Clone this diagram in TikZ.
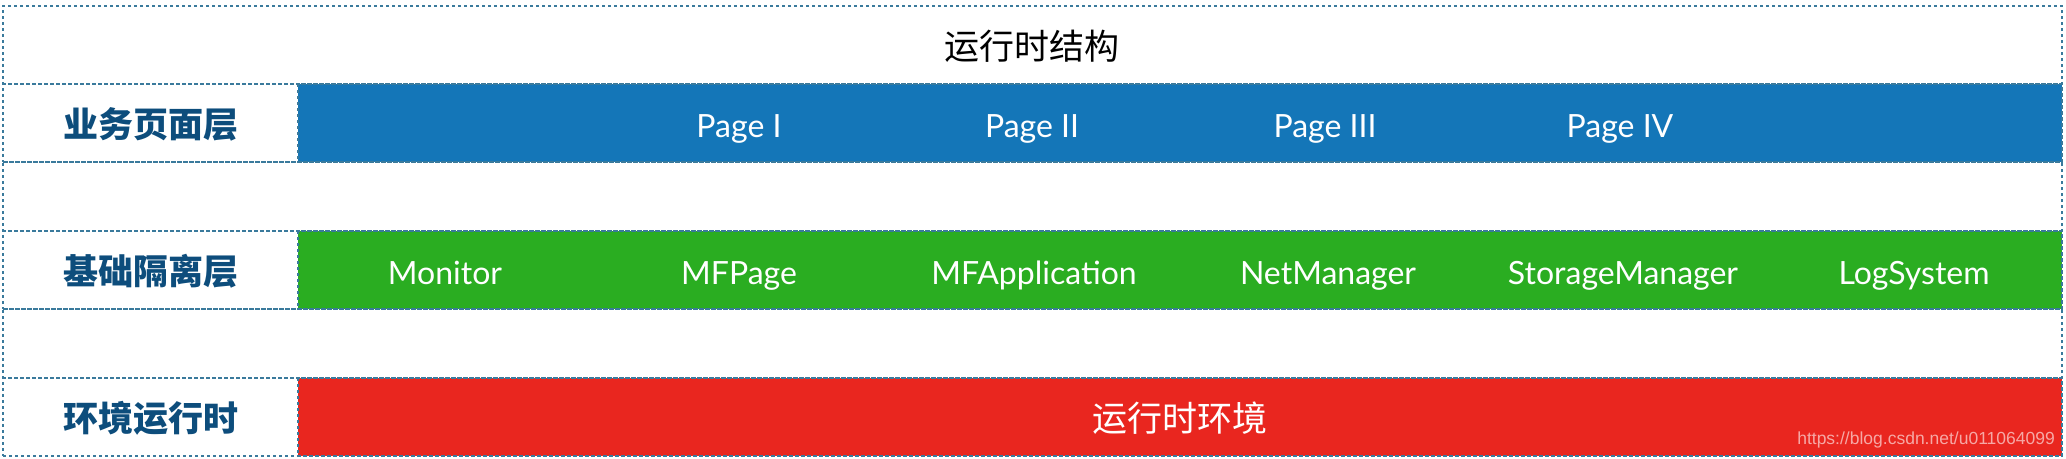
\documentclass[tikz,border=0pt]{standalone}
\usepackage{fontspec}
\setmainfont{Lato}
\newfontfamily\cjk{Noto Sans CJK SC}
\newfontfamily\wmfont{Liberation Sans}
\definecolor{bordercol}{HTML}{3A7A9C}
\definecolor{labelcol}{HTML}{0D4D7C}
\definecolor{pageblue}{HTML}{1476B8}
\definecolor{basegreen}{HTML}{2AAD21}
\definecolor{envred}{HTML}{E9261F}
\tikzset{
  rowbox/.style={draw=bordercol, line width=2.7pt, dash pattern=on 3pt off 3pt,
    minimum width=2059pt, anchor=north west, inner sep=0pt, outer sep=0pt},
  barbox/.style={draw=bordercol, line width=2.7pt, dash pattern=on 3pt off 3pt,
    minimum width=1764pt, minimum height=78pt, anchor=north west, inner sep=0pt, outer sep=0pt},
  layerlabel/.style={font=\cjk\bfseries\fontsize{35}{40}\selectfont, text=labelcol, inner sep=0pt},
  item/.style={font=\fontsize{32}{38}\selectfont, text=white, anchor=base, inner sep=0pt},
  title/.style={font=\cjk\fontsize{35}{40}\selectfont, text=black, inner sep=0pt},
}
\begin{document}
\begin{tikzpicture}[x=1pt,y=-1pt]
\useasboundingbox (0,0) rectangle (2066,458);
% coloured bars
\node[barbox, fill=pageblue] (bpage) at (298,84) {};
\node[barbox, fill=basegreen] (bbase) at (298,231) {};
\node[barbox, fill=envred] (benv) at (298,378) {};
% rows
\node[rowbox, minimum height=78pt] (r0) at (3,6) {};
\node[rowbox, minimum height=78pt] (r1) at (3,84) {};
\node[rowbox, minimum height=69pt] (r2) at (3,162) {};
\node[rowbox, minimum height=78pt] (r3) at (3,231) {};
\node[rowbox, minimum height=69pt] (r4) at (3,309) {};
\node[rowbox, minimum height=78pt] (r5) at (3,378) {};
% title
\node[title] (title) at (1032,46) {运行时结构};
% layer labels
\node[layerlabel] (l1) at (150.5,124) {业务页面层};
\node[layerlabel] (l2) at (150.5,271) {基础隔离层};
\node[layerlabel] (l3) at (150.5,418) {环境运行时};
% pages
\node[item] (p1) at (739,137) {Page I};
\node[item] (p2) at (1032,137) {Page II};
\node[item] (p3) at (1325,137) {Page III};
\node[item] (p4) at (1620,137) {Page IV};
% base modules
\node[item] (m1) at (445,284) {Monitor};
\node[item] (m2) at (739,284) {MFPage};
\node[item] (m3) at (1034,284) {MFApplication};
\node[item] (m4) at (1328,284) {NetManager};
\node[item] (m5) at (1623,284) {StorageManager};
\node[item] (m6) at (1914,284) {LogSystem};
% environment
\node[font=\cjk\fontsize{35}{40}\selectfont, text=white, inner sep=0pt] (env) at (1180,418) {运行时环境};
% watermark
\node[font=\wmfont\fontsize{17.5}{20}\selectfont, text=white, text opacity=0.6, anchor=base east, inner sep=0pt] (wm) at (2055,444) {https://blog.csdn.net/u011064099};
\end{tikzpicture}
\end{document}
